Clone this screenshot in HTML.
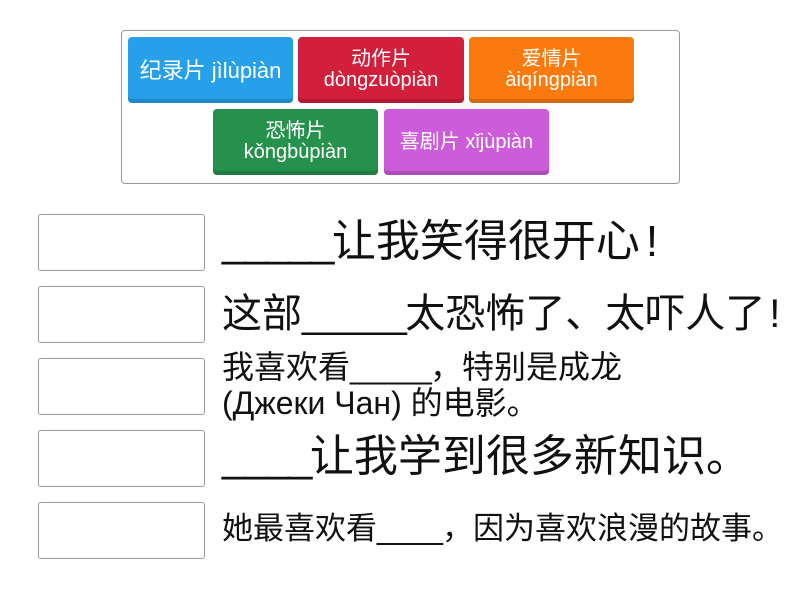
<!DOCTYPE html>
<html><head><meta charset="utf-8"><style>
body{margin:0;width:800px;height:600px;background:#fff;position:relative;overflow:hidden;font-family:"Liberation Sans","Noto Sans CJK SC",sans-serif;}
.c{position:absolute;left:121px;top:30px;width:557px;height:152px;border:1px solid #999;border-radius:4px;}
.b{position:absolute;color:#fff;border-radius:4px;display:flex;align-items:center;justify-content:center;text-align:center;line-height:21px;font-size:20px;box-shadow:inset 0 -4px 0 rgba(0,0,0,0.15);}
.bx{position:absolute;left:38px;width:165px;height:55px;border:1px solid #999;border-radius:3px;}
.t{position:absolute;left:222px;color:#111;white-space:nowrap;}
</style></head><body>
<div class="c"></div>
<div class="b" style="left:128px;top:37px;width:165px;height:66px;background:#27a0ea;font-size:22px">纪录片 jìlùpiàn</div>
<div class="b" style="left:298px;top:37px;width:166px;height:66px;background:#d21f3c">动作片<br>dòngzuòpiàn</div>
<div class="b" style="left:469px;top:37px;width:165px;height:66px;background:#fb7a0e">爱情片<br>àiqíngpiàn</div>
<div class="b" style="left:213px;top:109px;width:165px;height:66px;background:#25914c">恐怖片<br>kǒngbùpiàn</div>
<div class="b" style="left:384px;top:109px;width:165px;height:66px;background:#cc5cd9">喜剧片 xǐjùpiàn</div>
<div class="bx" style="top:214px"></div>
<div class="bx" style="top:286px"></div>
<div class="bx" style="top:358px"></div>
<div class="bx" style="top:430px"></div>
<div class="bx" style="top:502px"></div>
<div class="t" style="top:216px;font-size:44px;line-height:52px"><span style="letter-spacing:-2.5px">_____</span>让我笑得很开心<span style="margin-left:6px">!</span></div>
<div class="t" style="top:290px;font-size:40px;line-height:48px">这部<span style="letter-spacing:-1.6px">_____</span>太恐怖了、太吓人了<span style="margin-left:4px">!</span></div>
<div class="t" style="top:349px;font-size:32px;line-height:36px">我喜欢看<span style="letter-spacing:-1.8px">_____</span>，特别是成龙<br>(Джеки Чан) 的电影。</div>
<div class="t" style="top:431px;font-size:44px;line-height:52px"><span style="letter-spacing:-2.5px">____</span>让我学到很多新知识。</div>
<div class="t" style="top:511px;font-size:31px;line-height:36px">她最喜欢看<span style="letter-spacing:-1px">____</span>，因为喜欢浪漫的故事。</div>
</body></html>
